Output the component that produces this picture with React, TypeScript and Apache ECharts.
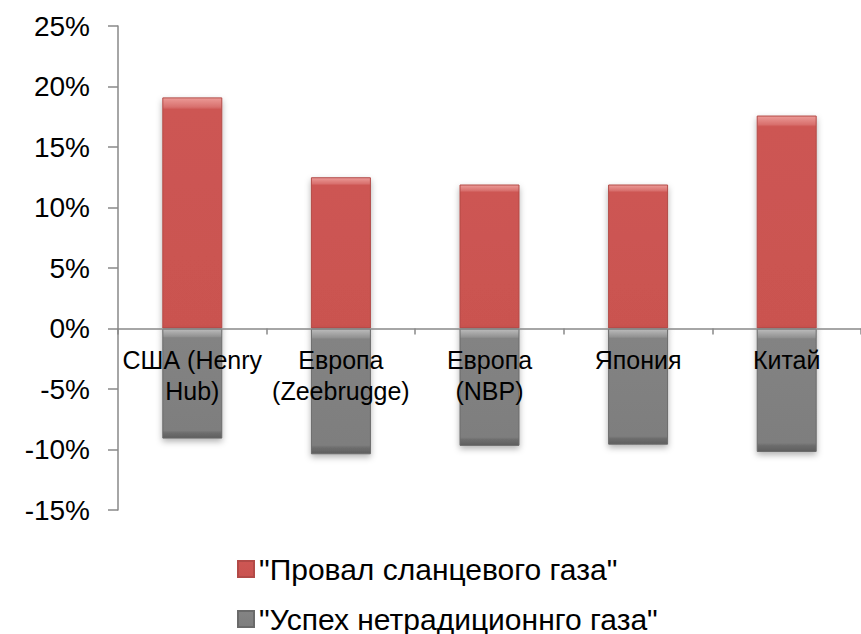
import React, { useEffect, useRef } from "react";
import * as echarts from "echarts";

const categories = ["США (Henry\nHub)", "Европа\n(Zeebrugge)", "Европа\n(NBP)", "Япония", "Китай"];
const failValues = [19.1, 12.5, 11.9, 11.9, 17.6];
const successValues = [-9.1, -10.4, -9.7, -9.6, -10.2];
const seriesNames = ['"Провал сланцевого газа"', '"Успех нетрадиционнго газа"'];
const yMin = -15;
const yMax = 25;
const yStep = 5;

const FONT = "'Liberation Sans', Arial, sans-serif";

export default function App() {
  const ref = useRef<HTMLDivElement>(null);
  useEffect(() => {
    if (!ref.current) return;
    const chart = echarts.init(ref.current, null, { renderer: "svg" });
    const redFill = new echarts.graphic.LinearGradient(0, 0, 0, 1, [
      { offset: 0, color: "#EC9B98" },
      { offset: 0.04, color: "#D8706D" },
      { offset: 0.05, color: "#CD5653" },
      { offset: 1, color: "#CA5350" },
    ]);
    const grayFill = new echarts.graphic.LinearGradient(0, 0, 0, 1, [
      { offset: 0, color: "#BDBDBD" },
      { offset: 0.07, color: "#919191" },
      { offset: 0.08, color: "#838383" },
      { offset: 0.93, color: "#7E7E7E" },
      { offset: 0.95, color: "#6E6E6E" },
      { offset: 1, color: "#5E5E5E" },
    ]);
    const gridTop = 26;
    const gridBottom = 124;
    const plotH = 634 - gridTop - gridBottom;
    const zeroOffset = -(plotH * (0 - yMin)) / (yMax - yMin);
    chart.setOption({
      animation: false,
      backgroundColor: "#ffffff",
      grid: { left: 118, top: gridTop, bottom: gridBottom, right: -13, containLabel: false },
      legend: {
        orient: "vertical",
        left: 232,
        top: 549,
        height: 90,
        itemWidth: 16,
        itemHeight: 16,
        itemGap: 20,
        icon: "rect",
        textStyle: { fontFamily: FONT, fontSize: 30, color: "#000", lineHeight: 30 },
        data: seriesNames,
      },
      xAxis: {
        type: "category",
        data: categories,
        z: 10,
        offset: zeroOffset,
        axisLine: { onZero: false, lineStyle: { color: "#898989", width: 1.5 } },
        axisTick: { show: true, length: 6, inside: false, lineStyle: { color: "#898989", width: 1.5 } },
        axisLabel: {
          interval: 0,
          margin: 16,
          fontFamily: FONT,
          fontSize: 25,
          lineHeight: 31,
          color: "#000",
          align: "center",
        },
        splitLine: { show: false },
      },
      yAxis: {
        type: "value",
        min: yMin,
        max: yMax,
        interval: yStep,
        axisLine: { show: true, lineStyle: { color: "#898989", width: 1.5 } },
        axisTick: { show: true, length: 10, lineStyle: { color: "#898989", width: 1.5 } },
        axisLabel: {
          margin: 28,
          fontFamily: FONT,
          fontSize: 28,
          color: "#000",
          formatter: (v: number) => `${v}%`,
        },
        splitLine: { show: false },
      },
      series: [
        {
          name: seriesNames[0],
          type: "bar",
          stack: "total",
          data: failValues,
          barWidth: 60,
          itemStyle: {
            color: redFill,
            borderColor: "#B24A47",
            borderWidth: 1,
            shadowColor: "rgba(0,0,0,0.3)",
            shadowBlur: 6,
            shadowOffsetY: 3,
          },
        },
        {
          name: seriesNames[1],
          type: "bar",
          stack: "total",
          data: successValues,
          barWidth: 60,
          itemStyle: {
            color: grayFill,
            borderColor: "#6A6A6A",
            borderWidth: 1,
            shadowColor: "rgba(0,0,0,0.3)",
            shadowBlur: 6,
            shadowOffsetY: 3,
          },
        },
      ],
    });
    return () => chart.dispose();
  }, []);
  return (
    <div
      ref={ref}
      style={{ width: 861, height: 634, position: "absolute", left: 0, top: 0, background: "#fff" }}
    />
  );
}
